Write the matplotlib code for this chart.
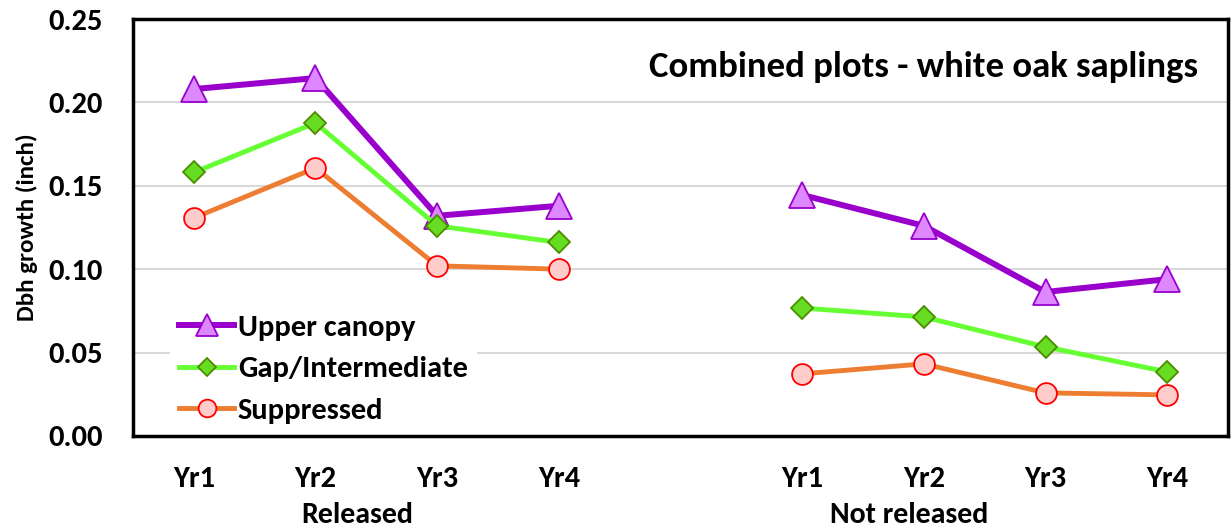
import numpy as np
import matplotlib.pyplot as plt

plt.rcParams['font.family'] = ['Carlito', 'DejaVu Sans']
plt.rcParams['font.weight'] = 'bold'

years = ['Yr1', 'Yr2', 'Yr3', 'Yr4']
groups = ['Released', 'Not released']

upper_rel = [0.208, 0.2146, 0.132, 0.138]
upper_not = [0.1445, 0.126, 0.0863, 0.094]
gap_rel = [0.158, 0.1877, 0.126, 0.116]
gap_not = [0.0767, 0.0713, 0.0534, 0.0384]
supp_rel = [0.1307, 0.1607, 0.102, 0.100]
supp_not = [0.0372, 0.0432, 0.0258, 0.0246]

x_rel = np.arange(4)
x_not = np.arange(4) + 5

fig = plt.figure(figsize=(12.31, 5.29), dpi=100)
ax = fig.add_axes([0.108, 0.176, 0.8896, 0.788])

series = [
    ('Upper canopy', upper_rel, upper_not, '#9900CC', '^', '#DD88FF', '#9900CC', 19, 4.3),
    ('Gap/Intermediate', gap_rel, gap_not, '#66FF33', 'D', '#66DD22', '#4D8C00', 11, 3.5),
    ('Suppressed', supp_rel, supp_not, '#ED7D31', 'o', '#FFCCCC', '#FF0000', 15, 3.5),
]
for name, rel, nrel, lc, m, fc, ec, ms, lw in series:
    kw = dict(color=lc, marker=m, markerfacecolor=fc, markeredgecolor=ec,
              markersize=ms, markeredgewidth=1.3, linewidth=lw)
    ax.plot(x_rel, rel, label=name, **kw)
    ax.plot(x_not, nrel, **kw)

ax.set_xlim(-0.5, 8.5)
ax.set_ylim(0, 0.25)
ax.set_yticks(np.arange(0, 0.26, 0.05))
ax.set_yticklabels(['%.2f' % v for v in np.arange(0, 0.26, 0.05)])
ax.set_xticks(list(x_rel) + list(x_not))
ax.set_xticklabels(years + years)
ax.tick_params(axis='both', length=0, labelsize=22)
ax.tick_params(axis='x', pad=22)
ax.tick_params(axis='y', pad=22)
for lab in ax.get_xticklabels() + ax.get_yticklabels():
    lab.set_fontweight('bold')
ax.yaxis.grid(True, color='#D9D9D9', linewidth=1.5)
ax.set_axisbelow(True)
for s in ax.spines.values():
    s.set_linewidth(2.5)
    s.set_color('black')
    s.set_zorder(6)

ax.set_ylabel('Dbh growth (inch)', fontsize=18, fontweight='bold', labelpad=7)

ax.text(0.2046, -0.19, groups[0], transform=ax.transAxes, ha='center', va='center',
        fontsize=21.5, fontweight='bold')
ax.text(0.7087, -0.19, groups[1], transform=ax.transAxes, ha='center', va='center',
        fontsize=21.5, fontweight='bold')

ax.text(0.7215, 0.885, 'Combined plots - white oak saplings', transform=ax.transAxes,
        ha='center', va='center', fontsize=26.5, fontweight='bold')

leg = ax.legend(loc='lower left', bbox_to_anchor=(0.02, -0.03), frameon=True,
                prop={'family': 'Carlito', 'weight': 'bold', 'size': 22},
                handlelength=1.8, handletextpad=0.12, labelspacing=0.5, borderpad=0.3,
                markerscale=0.85)
leg.get_frame().set_edgecolor('none')
leg.get_frame().set_facecolor('white')
leg.get_frame().set_alpha(1)

fig.savefig('out.png', dpi=100)
